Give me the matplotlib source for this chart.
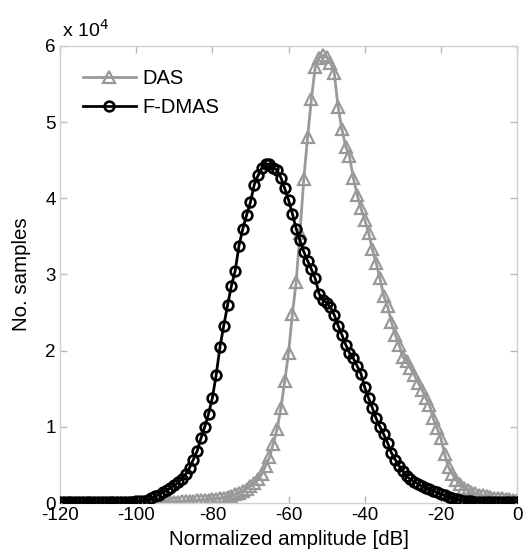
import matplotlib
matplotlib.use("Agg")
import matplotlib.pyplot as plt

plt.rcParams['font.family'] = ['Liberation Sans', 'DejaVu Sans']

# bin centres in dB (1 dB bins)
amplitude_db = list(range(-120, 1))

das_counts = [
    0, 0, 0, 0, 0, 0, 0, 0, 0, 0,                 # -120..-111
    0, 0, 0, 0, 0, 0, 0, 0, 0, 0,                 # -110..-101
    0, 10, 15, 20, 25,                            # -100..-96
    30, 50, 80, 110, 130, 150, 180, 210, 240, 270,    # -95..-86
    300, 330, 360, 400, 440, 500, 560, 620, 700, 800, # -85..-76
    950, 1150, 1350, 1600, 1900, 2200, 2600, 3150, 3800, 4900,  # -75..-66
    6000, 7800, 9700, 12500, 16000, 19700, 24800, 29000, 35500, 42500,  # -65..-56
    48000, 53000, 57200, 58400, 58800, 58500, 57800, 56500, 52000, 49100,  # -55..-46
    46800, 45500, 42700, 40500, 38700, 37200, 35500, 33300, 31500, 29500,  # -45..-36
    27200, 25800, 23800, 22100, 20800, 19200, 18600, 17700, 16800, 15800,  # -35..-26
    14900, 13800, 12900, 11100, 9800, 8500, 6400, 4700, 3800, 3000,        # -25..-16
    2500, 2000, 1700, 1500, 1300, 1100, 1000, 900, 800, 700,               # -15..-6
    650, 600, 550, 500, 450, 400,                                          # -5..0
]

fdmas_counts = [
    150, 150, 150, 150, 150, 150, 150, 150, 150, 150,   # -120..-111
    150, 150, 150, 150, 150, 150, 150, 160, 170, 180,   # -110..-101
    200, 250, 300, 400, 600, 900, 1100, 1400, 1700, 2000,        # -100..-91
    2300, 2700, 3200, 3800, 4600, 5700, 6800, 8500, 10000, 11700,  # -90..-81
    13800, 16800, 20500, 23300, 26000, 28500, 30500, 33800, 36000, 37800,  # -80..-71
    39500, 41800, 43000, 44000, 44500, 44500, 44000, 43700, 42700, 41300,  # -70..-61
    39800, 38000, 36000, 34500, 33000, 31800, 30700, 29500, 27500, 26700,  # -60..-51
    26300, 25700, 24700, 23300, 22100, 20800, 19700, 19000, 18000, 17000,  # -50..-41
    15200, 13800, 12500, 11100, 10000, 9000, 7900, 6600, 5700, 4900,       # -40..-31
    4200, 3500, 3100, 2800, 2500, 2200, 2000, 1800, 1600, 1400,            # -30..-21
    1200, 1000, 800, 650, 500, 400, 300, 250, 200, 180,                    # -20..-11
    160, 150, 150, 150, 150, 150, 150, 150, 150, 150, 150,                 # -10..0
]

series_labels = ["DAS", "F-DMAS"]
x_ticks = [-120, -100, -80, -60, -40, -20, 0]
y_ticks = [0, 10000, 20000, 30000, 40000, 50000, 60000]
y_tick_labels = ["0", "1", "2", "3", "4", "5", "6"]

fig = plt.figure(figsize=(5.23, 5.56), dpi=100)
ax = fig.add_axes([0.1147, 0.0953, 0.874, 0.8220])

gray = '#999999'
ax.plot(amplitude_db, das_counts, color=gray, lw=2.0, marker='^', ms=8.5,
        mfc='none', mec=gray, mew=1.6, label=series_labels[0], zorder=2)
ax.plot(amplitude_db, fdmas_counts, color='black', lw=2.0, marker='o', ms=7,
        mfc='none', mec='black', mew=1.9, label=series_labels[1], zorder=3)

ax.set_xlim(-120, 0)
ax.set_ylim(0, 60000)
ax.set_xticks(x_ticks)
ax.set_xticklabels([str(t) for t in x_ticks])
ax.set_yticks(y_ticks)
ax.set_yticklabels(y_tick_labels)

for s in ax.spines.values():
    s.set_color('#d0d0d0')
    s.set_linewidth(1.0)
ax.tick_params(direction='in', length=5, width=1, color='#b8b8b8',
               labelsize=13.5, labelcolor='black', top=True, right=True, pad=3)

ax.set_xlabel("Normalized amplitude [dB]", fontsize=14.8, labelpad=4)
ax.set_ylabel("No. samples", fontsize=14.8, labelpad=10)
ax.text(0.004, 1.012, r"x 10$^{4}$", transform=ax.transAxes, fontsize=14,
        ha='left', va='bottom')

leg = ax.legend(loc='upper left', frameon=False, fontsize=14.5,
                handlelength=2.6, borderaxespad=0.75, labelspacing=0.5,
                handletextpad=0.35)

fig.savefig("out.png", dpi=100)
